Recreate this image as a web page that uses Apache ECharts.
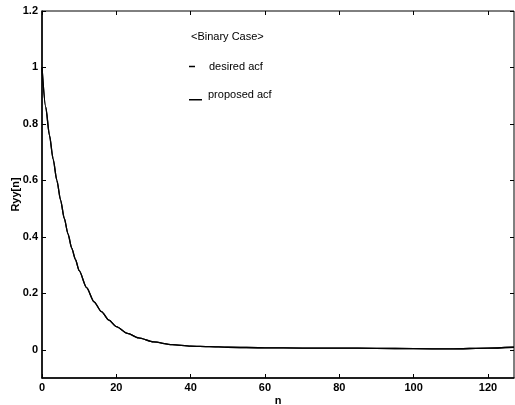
<!DOCTYPE html>
<html>
<head>
<meta charset="utf-8">
<script src="https://cdn.jsdelivr.net/npm/echarts@6/dist/echarts.min.js"></script>
<style>
  html, body { margin: 0; padding: 0; background: #fff; }
  #chart { width: 515px; height: 405px; }
</style>
</head>
<body>
<div id="chart"></div>
<script>
// lag n (sampled where the curve bends)
const nValues = [0, 1, 2, 3, 4, 5, 6, 7, 8, 9, 10, 12, 14, 16, 18, 20, 23, 26, 30, 35, 40, 45, 50, 60, 70, 80, 90, 100, 110, 120, 127];
// desired acf
const desiredAcf = [1.0, 0.86, 0.76, 0.675, 0.60, 0.53, 0.465, 0.41, 0.36, 0.32, 0.28, 0.22, 0.17, 0.135, 0.105, 0.082, 0.058, 0.042, 0.028, 0.018, 0.013, 0.011, 0.009, 0.007, 0.006, 0.006, 0.005, 0.004, 0.003, 0.006, 0.009];
// proposed acf lies on top of the desired one
const proposedAcf = [1.0, 0.86, 0.76, 0.675, 0.60, 0.53, 0.465, 0.41, 0.36, 0.32, 0.28, 0.22, 0.17, 0.135, 0.105, 0.082, 0.058, 0.042, 0.028, 0.018, 0.013, 0.011, 0.009, 0.007, 0.006, 0.006, 0.005, 0.004, 0.003, 0.006, 0.009];
// tick labels
const xTicks = [0, 20, 40, 60, 80, 100, 120];
const yTicks = [0, 0.2, 0.4, 0.6, 0.8, 1, 1.2];

let myChart = echarts.init(document.getElementById('chart'), null, { renderer: 'canvas' });

const font = 'Liberation Sans, Arial, sans-serif';

function pairs(ys) {
    return nValues.map(function (n, i) { return [n, ys[i]]; });
}

var option = {
    animation: false,
    backgroundColor: '#fff',
    title: {
        text: '<Binary Case>',
        left: 191,
        top: 31,
        padding: 0,
        textStyle: { fontFamily: font, fontSize: 11, fontWeight: 'normal', color: '#000' }
    },
    legend: [{
        data: ['desired acf'],
        left: 189,
        top: 61,
        padding: 0,
        icon: 'rect',
        itemWidth: 6,
        itemHeight: 1.5,
        textStyle: { fontFamily: font, fontSize: 11, color: '#000', padding: [0, 0, 0, 9] }
    }, {
        data: ['proposed acf'],
        left: 189,
        top: 89,
        padding: 0,
        // line drawn at the bottom of the icon box, like an underscore
        icon: 'path://M0,0M0,10L13,10L13,11.5L0,11.5Z',
        itemWidth: 13,
        itemHeight: 11.5,
        textStyle: { fontFamily: font, fontSize: 11, color: '#000', padding: [0, 0, 0, 1] }
    }],
    grid: {
        left: 42,
        right: 1,
        top: 11,
        bottom: 27,
        outerBoundsMode: 'none',
        containLabel: false,
        show: true,
        borderColor: '#000',
        borderWidth: 1,
        backgroundColor: 'transparent'
    },
    xAxis: [{
        type: 'value',
        min: 0,
        max: 127,
        name: 'n',
        nameLocation: 'middle',
        nameGap: 17,
        nameMoveOverlap: false,
        nameTextStyle: { fontFamily: font, fontSize: 11, fontWeight: 'bold', color: '#000' },
        axisLine: { show: true, onZero: false, lineStyle: { color: '#000', width: 1.5 } },
        axisTick: { show: true, inside: true, length: 4, customValues: xTicks, lineStyle: { color: '#000' } },
        axisLabel: { customValues: xTicks, margin: 4, fontFamily: font, fontSize: 11, fontWeight: 'bold', color: '#000' },
        splitLine: { show: false }
    }, {
        type: 'value',
        position: 'top',
        min: 0,
        max: 127,
        axisLine: { show: false, onZero: false },
        axisTick: { show: true, inside: true, length: 4, customValues: xTicks, lineStyle: { color: '#000' } },
        axisLabel: { show: false },
        splitLine: { show: false }
    }],
    yAxis: [{
        type: 'value',
        min: -0.1,
        max: 1.2,
        name: 'Ryy[n]',
        nameLocation: 'middle',
        nameGap: 21,
        nameMoveOverlap: false,
        nameTextStyle: { fontFamily: font, fontSize: 11, fontWeight: 'bold', color: '#000' },
        axisLine: { show: true, onZero: false, lineStyle: { color: '#000', width: 1.5 } },
        axisTick: { show: true, inside: true, length: 4, customValues: yTicks, lineStyle: { color: '#000' } },
        axisLabel: { customValues: yTicks, margin: 4, fontFamily: font, fontSize: 11, fontWeight: 'bold', color: '#000' },
        splitLine: { show: false }
    }, {
        type: 'value',
        position: 'right',
        min: -0.1,
        max: 1.2,
        axisLine: { show: false, onZero: false },
        axisTick: { show: true, inside: true, length: 4, customValues: yTicks, lineStyle: { color: '#000' } },
        axisLabel: { show: false },
        splitLine: { show: false }
    }],
    series: [{
        name: 'desired acf',
        type: 'line',
        data: pairs(desiredAcf),
        smooth: 0.25,
        smoothMonotone: 'x',
        showSymbol: false,
        itemStyle: { color: '#000' },
        lineStyle: { color: '#000', width: 1.3 }
    }, {
        name: 'proposed acf',
        type: 'line',
        data: pairs(proposedAcf),
        smooth: 0.25,
        smoothMonotone: 'x',
        showSymbol: false,
        itemStyle: { color: '#000' },
        lineStyle: { color: '#000', width: 1.3 }
    }]
};

myChart.setOption(option);
</script>
</body>
</html>
